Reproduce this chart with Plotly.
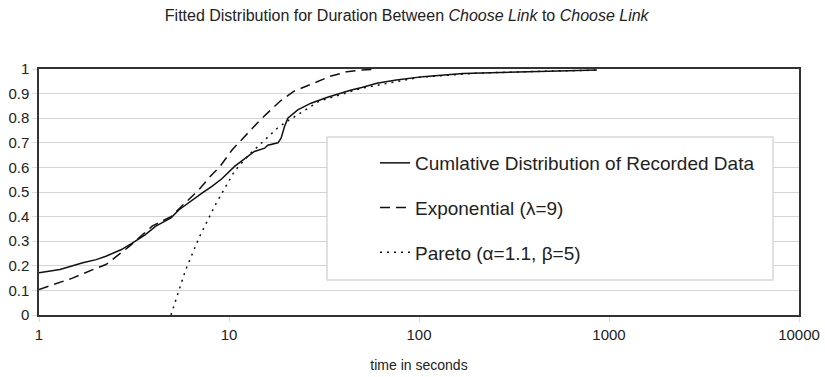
import plotly.graph_objects as go

# Recorded data (empirical CDF)
data_x = [1, 1.29, 1.7, 2.0, 2.25, 2.7, 3.11, 3.6, 4.12, 4.95, 5.46, 6.2, 7.24, 8.13, 9.2, 10.7, 12.6, 13.6, 15.4, 16.0, 18.1, 18.8, 19.6, 20.4, 23.0, 27, 33, 40, 44, 50, 60, 76, 105, 170, 300, 610, 863]
data_y = [0.172, 0.185, 0.212, 0.225, 0.239, 0.265, 0.293, 0.325, 0.361, 0.395, 0.428, 0.46, 0.496, 0.523, 0.555, 0.604, 0.645, 0.665, 0.678, 0.69, 0.70, 0.719, 0.766, 0.80, 0.834, 0.861, 0.885, 0.905, 0.915, 0.925, 0.942, 0.955, 0.969, 0.982, 0.988, 0.993, 0.996]

# Exponential fit (lambda = 9)
exp_x = [1, 1.5, 2, 2.25, 3, 3.94, 4.95, 6, 6.96, 8, 8.97, 10.4, 11.4, 12.5, 14.6, 18.5, 22, 27.8, 34, 41.7, 50, 60]
exp_y = [0.104, 0.15, 0.19, 0.205, 0.28, 0.361, 0.40, 0.46, 0.51, 0.565, 0.604, 0.672, 0.705, 0.74, 0.793, 0.868, 0.91, 0.942, 0.97, 0.989, 0.996, 0.999]

# Pareto fit (alpha = 1.1, beta = 5)
par_x = [4.95, 5.58, 5.89, 6.96, 8.5, 10.7, 12.6, 18, 20, 30, 50, 100, 200, 500, 863]
par_y = [0.0, 0.125, 0.18, 0.315, 0.45, 0.585, 0.648, 0.76, 0.785, 0.87, 0.922, 0.966, 0.983, 0.992, 0.995]

names = ["Cumlative Distribution of Recorded Data", "Exponential (\u03bb=9)", "Pareto (\u03b1=1.1, \u03b2=5)"]
y_ticks = [0, 0.1, 0.2, 0.3, 0.4, 0.5, 0.6, 0.7, 0.8, 0.9, 1]
x_ticks = [1, 10, 100, 1000, 10000]

fig = go.Figure()
fig.add_trace(go.Scatter(x=data_x, y=data_y, mode="lines", name=names[0], legendgroup="a",
                         line=dict(color="#111111", width=1.5)))
fig.add_trace(go.Scatter(x=exp_x, y=exp_y, mode="lines", name=names[1], legendgroup="b",
                         line=dict(color="#111111", width=1.5, dash="10px,6px")))
fig.add_trace(go.Scatter(x=par_x, y=par_y, mode="lines", name=names[2], legendgroup="c",
                         line=dict(color="#111111", width=1.5, dash="2px,5px")))

# legend frame
fig.add_shape(type="rect", xref="paper", yref="paper",
              x0=(327 - 39) / 760, x1=(773 - 39) / 760,
              y0=(315 - 280) / 246, y1=(315 - 137) / 246,
              fillcolor="white", line=dict(color="#d8d8d8", width=1.5), layer="above")

fig.update_layout(
    width=825, height=377,
    margin=dict(l=39, r=26, t=69, b=62),
    paper_bgcolor="white", plot_bgcolor="white",
    font=dict(family="Liberation Sans, Arial, sans-serif", color="#222222"),
    title=dict(text="Fitted Distribution for Duration Between <i>Choose Link</i> to <i>Choose Link</i>",
               font=dict(size=16, color="#222222"), x=0.493, xanchor="center", y=0.96, yanchor="middle"),
    showlegend=True,
    legend=dict(x=(375 - 39) / 760, y=(315 - 144) / 246, xanchor="left", yanchor="top",
                bgcolor="rgba(0,0,0,0)", borderwidth=0, tracegroupgap=17,
                font=dict(size=19, color="#222222")),
    xaxis=dict(type="log", range=[0, 4], tickvals=x_ticks, ticktext=[str(v) for v in x_ticks],
               showgrid=False, showline=True, linecolor="#333333", linewidth=1.5, mirror=True,
               ticks="outside", ticklen=5, tickcolor="#dddddd", tickfont=dict(size=15),
               automargin=False,
               title=dict(text="time in seconds", font=dict(size=14), standoff=18), zeroline=False),
    yaxis=dict(range=[0, 1], tickvals=y_ticks, ticktext=[f"{v:g}" for v in y_ticks],
               showgrid=True, gridcolor="#d4d4d4", gridwidth=1, automargin=False,
               showline=True, linecolor="#333333", linewidth=1.5, mirror=True,
               ticks="outside", ticklen=5, tickcolor="#dddddd", tickfont=dict(size=15), zeroline=False),
)

fig.write_html("out.html")
